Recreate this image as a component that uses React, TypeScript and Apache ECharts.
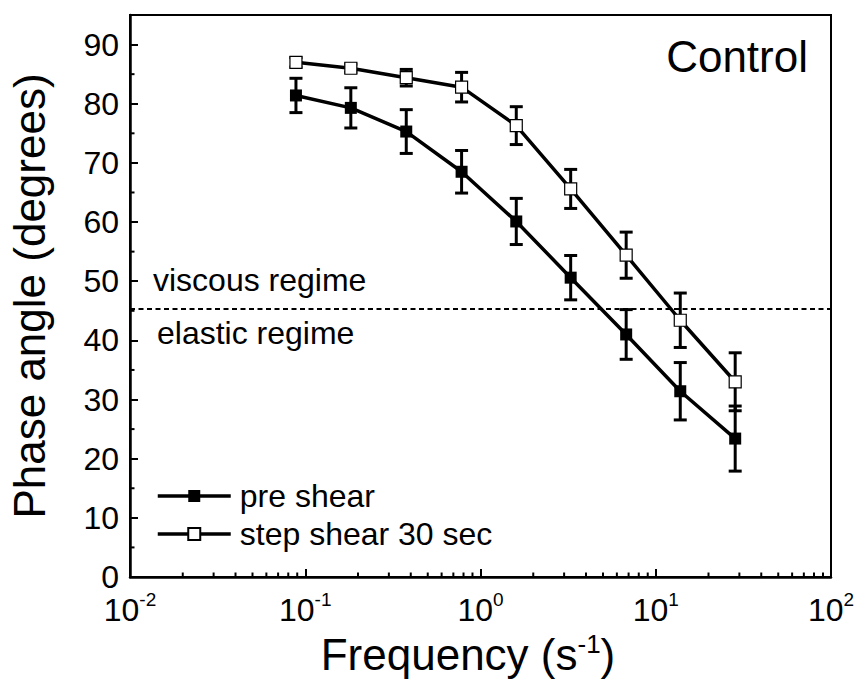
import React, { useEffect, useRef } from 'react';
import * as echarts from 'echarts';

const FONT = '"Liberation Sans", Arial, Helvetica, sans-serif';

const frequencies = [0.0885, 0.182, 0.377, 0.78, 1.6, 3.27, 6.78, 13.8, 28.4];
const preShear = [81.4, 79.3, 75.3, 68.5, 60.1, 50.6, 41.0, 31.4, 23.4];
const preShearErr = [2.9, 3.4, 3.7, 3.6, 3.9, 3.75, 4.2, 4.85, 5.5];
const stepShear = [87.0, 86.0, 84.4, 82.8, 76.3, 65.6, 54.4, 43.4, 33.0];
const stepShearErr = [0.8, 0.7, 1.4, 2.5, 3.2, 3.3, 3.9, 4.6, 4.9];

const xMinorTicks = [
  0.02, 0.03, 0.04, 0.05, 0.06, 0.07, 0.08, 0.09,
  0.2, 0.3, 0.4, 0.5, 0.6, 0.7, 0.8, 0.9,
  2, 3, 4, 5, 6, 7, 8, 9,
  20, 30, 40, 50, 60, 70, 80, 90,
];
const yMinorTicks = [5, 15, 25, 35, 45, 55, 65, 75, 85];
const regimeBoundary = 45.4;

const seriesNames = ['pre shear', 'step shear 30 sec'];

function errorBarSeries(values: number[], errs: number[]) {
  return {
    type: 'custom',
    silent: true,
    z: 1,
    clip: false,
    encode: { x: 0, y: [1, 2] },
    data: frequencies.map((f, i) => [f, values[i] - errs[i], values[i] + errs[i]]),
    renderItem: (params: any, api: any) => {
      const x = api.value(0);
      const lo = api.coord([x, api.value(1)]);
      const hi = api.coord([x, api.value(2)]);
      const hw = 6.5;
      const st = { stroke: '#000', lineWidth: 3 };
      return {
        type: 'group',
        children: [
          { type: 'line', shape: { x1: lo[0], y1: lo[1], x2: hi[0], y2: hi[1] }, style: st },
          { type: 'line', shape: { x1: lo[0] - hw, y1: lo[1], x2: lo[0] + hw, y2: lo[1] }, style: st },
          { type: 'line', shape: { x1: hi[0] - hw, y1: hi[1], x2: hi[0] + hw, y2: hi[1] }, style: st },
        ],
      };
    },
  };
}

export default function App() {
  const ref = useRef<HTMLDivElement>(null);
  useEffect(() => {
    if (!ref.current) return;
    const chart = echarts.init(ref.current, undefined, { renderer: 'svg' });
    const option: any = {
      animation: false,
      backgroundColor: '#fff',
      textStyle: { fontFamily: FONT, color: '#000' },
      grid: {
        left: 130, right: 28, top: 15, bottom: 102,
        containLabel: false,
        outerBoundsMode: 'none',
        show: true, borderColor: '#000', borderWidth: 2,
      },
      xAxis: {
        type: 'log',
        logBase: 10,
        min: 0.01,
        max: 100,
        name: '{a|Frequency (s}{s|-1}{a|)}',
        nameLocation: 'middle',
        nameGap: 50,
        nameTextStyle: {
          padding: [0, 25, 0, 0],
          rich: {
            a: { fontSize: 44, fontFamily: FONT, color: '#000', lineHeight: 48 },
            s: { fontSize: 26, fontFamily: FONT, color: '#000', verticalAlign: 'top' },
          },
        },
        axisLine: { lineStyle: { color: '#000', width: 2.5 } },
        axisTick: { inside: true, length: 8, lineStyle: { color: '#000', width: 2 } },
        splitLine: { show: false },
        axisLabel: {
          margin: 13,
          formatter: (v: number) => `{b|10}{s|${Math.round(Math.log10(v))}}`,
          rich: {
            b: { fontSize: 32, fontFamily: FONT, color: '#000', lineHeight: 40 },
            s: { fontSize: 19, fontFamily: FONT, color: '#000', verticalAlign: 'top' },
          },
        },
      },
      yAxis: {
        type: 'value',
        min: 0,
        max: 95,
        interval: 10,
        name: 'Phase angle (degrees)',
        nameLocation: 'middle',
        nameGap: 79,
        nameTextStyle: { fontSize: 44, fontFamily: FONT, color: '#000' },
        axisLine: { show: true, lineStyle: { color: '#000', width: 2.5 } },
        axisTick: { inside: true, length: 8, lineStyle: { color: '#000', width: 2 } },
        splitLine: { show: false },
        axisLabel: {
          margin: 11,
          fontSize: 32,
          lineHeight: 20,
          fontFamily: FONT,
          color: '#000',
          showMaxLabel: false,
          formatter: (v: number) => (v % 10 === 0 ? String(v) : ''),
        },
      },
      legend: {
        data: seriesNames,
        orient: 'vertical',
        left: 156,
        top: 480,
        padding: 0,
        itemWidth: 73,
        itemHeight: 15,
        itemGap: 6,
        lineStyle: { width: 3.5 },
        textStyle: { fontSize: 32, fontFamily: FONT, color: '#000', lineHeight: 32, padding: [0, 0, 0, 4] },
      },
      graphic: [
        {
          type: 'text', x: 153, y: 280,
          style: { text: 'viscous regime', font: `32px ${FONT}`, fill: '#000', textAlign: 'left', textVerticalAlign: 'middle' },
        },
        {
          type: 'text', x: 157, y: 333,
          style: { text: 'elastic regime', font: `32px ${FONT}`, fill: '#000', textAlign: 'left', textVerticalAlign: 'middle' },
        },
        {
          type: 'text', x: 808, y: 56,
          style: { text: 'Control', font: `44px ${FONT}`, fill: '#000', textAlign: 'right', textVerticalAlign: 'middle' },
        },
      ],
      series: [
        errorBarSeries(preShear, preShearErr),
        errorBarSeries(stepShear, stepShearErr),
        {
          type: 'custom',
          silent: true,
          z: 4,
          clip: false,
          data: xMinorTicks.map((v) => [v, 0]),
          renderItem: (params: any, api: any) => {
            const p = api.coord([api.value(0), api.value(1)]);
            return { type: 'line', shape: { x1: p[0], y1: p[1], x2: p[0], y2: p[1] - 4.5 }, style: { stroke: '#000', lineWidth: 2 } };
          },
        },
        {
          type: 'custom',
          silent: true,
          z: 4,
          clip: false,
          data: yMinorTicks.map((v) => [0.01, v]),
          renderItem: (params: any, api: any) => {
            const p = api.coord([api.value(0), api.value(1)]);
            return { type: 'line', shape: { x1: p[0], y1: p[1], x2: p[0] + 4.5, y2: p[1] }, style: { stroke: '#000', lineWidth: 2 } };
          },
        },
        {
          name: seriesNames[0],
          type: 'line',
          z: 3,
          data: frequencies.map((f, i) => [f, preShear[i]]),
          symbol: 'rect',
          symbolSize: 12,
          lineStyle: { color: '#000', width: 3.5 },
          itemStyle: { color: '#000', borderColor: '#000', borderWidth: 0 },
          markLine: {
            silent: true,
            symbol: 'none',
            label: { show: false },
            lineStyle: { color: '#000', type: [5, 3.5], width: 1.8 },
            data: [{ yAxis: regimeBoundary }],
          },
        },
        {
          name: seriesNames[1],
          type: 'line',
          z: 3,
          data: frequencies.map((f, i) => [f, stepShear[i]]),
          symbol: 'rect',
          symbolSize: 12,
          lineStyle: { color: '#000', width: 3.5 },
          itemStyle: { color: '#fff', borderColor: '#000', borderWidth: 1.2 },
        },
      ],
    };
    chart.setOption(option);
    return () => chart.dispose();
  }, []);
  return <div ref={ref} style={{ position: 'absolute', left: 0, top: 0, width: 859, height: 679 }} />;
}
